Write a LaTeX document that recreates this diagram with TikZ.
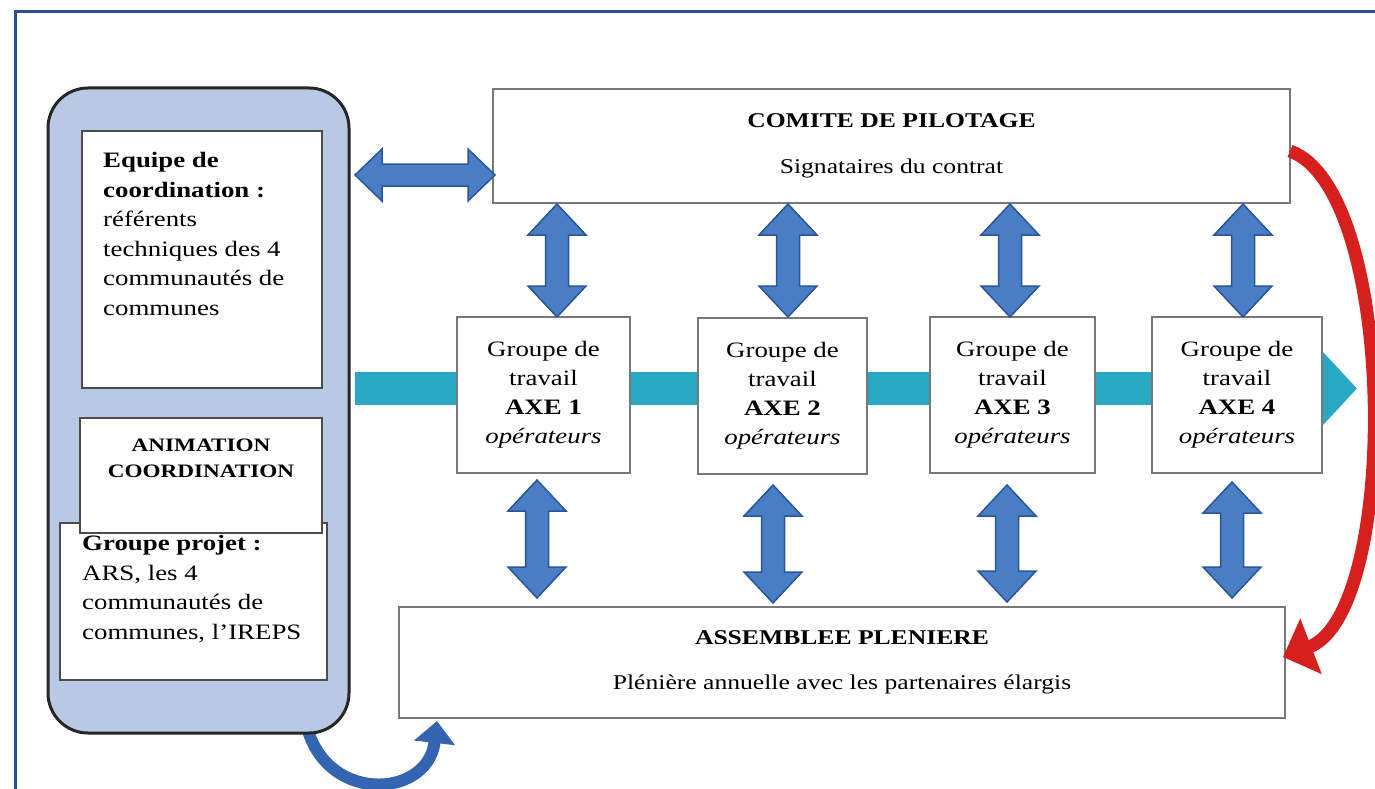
\documentclass[tikz,border=0pt]{standalone}
\usepackage{fontspec}
\setmainfont{Liberation Serif}[FakeStretch=1.22]
\usetikzlibrary{arrows.meta,calc}
\definecolor{framec}{RGB}{44,79,145}
\definecolor{panelc}{RGB}{185,201,229}
\definecolor{blueA}{RGB}{74,126,196}
\definecolor{blueD}{RGB}{40,86,158}
\definecolor{blueC}{RGB}{52,101,178}
\definecolor{tealc}{RGB}{41,168,196}
\definecolor{redc}{RGB}{214,32,30}
\definecolor{boxline}{RGB}{120,120,120}
\tikzset{
  mainbox/.style={draw=boxline, line width=1.6pt, fill=white, align=center, font=\fontsize{21}{29}\selectfont},
  axebox/.style={draw=boxline, line width=1.6pt, fill=white, align=center, minimum height=156pt, font=\fontsize{22}{29}\selectfont},
  innerbox/.style={draw=black!70, line width=1.4pt, fill=white},
  paneltext/.style={align=left, inner sep=0pt, font=\fontsize{22}{29.6}\selectfont},
  dbl/.style={fill=blueA, draw=blueD, line width=1.5pt, line join=miter},
}
\newcommand\vdarr[2]{\filldraw[dbl] let \p1=(#1), \p2=(#2) in
  (\x1,\y1) -- ({\x1+29pt},{\y1-31pt}) -- ({\x1+11.5pt},{\y1-31pt}) -- ({\x1+11.5pt},{\y2+31pt})
  -- ({\x1+29pt},{\y2+31pt}) -- (\x1,\y2) -- ({\x1-29pt},{\y2+31pt}) -- ({\x1-11.5pt},{\y2+31pt})
  -- ({\x1-11.5pt},{\y1-31pt}) -- ({\x1-29pt},{\y1-31pt}) -- cycle;}
\newcommand\hdarr[2]{\filldraw[dbl] let \p1=(#1), \p2=(#2) in
  (\x1,\y1) -- ({\x1+27pt},{\y1+26pt}) -- ({\x1+27pt},{\y1+11pt}) -- ({\x2-27pt},{\y1+11pt})
  -- ({\x2-27pt},{\y1+26pt}) -- (\x2,\y1) -- ({\x2-27pt},{\y1-26pt}) -- ({\x2-27pt},{\y1-11pt})
  -- ({\x1+27pt},{\y1-11pt}) -- ({\x1+27pt},{\y1-26pt}) -- cycle;}
\begin{document}
\begin{tikzpicture}[x=1pt,y=-1pt]
\useasboundingbox[fill=white] (0,0) rectangle (1375,789);
% outer frame
\coordinate (f0) at (15,789);
\coordinate (f1) at (15,12);
\coordinate (f2) at (1375,12);
\draw[framec, line width=3pt] (f0) -- (f1) -- (f2);
% curved blue arrow (behind panel)
\coordinate (b0) at (305,718);
\coordinate (b1) at (437,721);
\draw[blueC, line width=12pt, -{Triangle[width=40pt,length=22pt]}] (b0) .. controls (320,805) and (428,800) .. (b1);
% left panel
\node[draw=black!85, line width=3pt, fill=panelc, rounded corners=40pt, minimum width=301pt, minimum height=645pt] (panel) at (198.5,410.5) {};
\node[innerbox, minimum width=267pt, minimum height=157pt] (gproj) at (193.5,601.5) {};
\node[innerbox, minimum width=242pt, minimum height=115pt] (anim) at (201,475.5) {};
\node[innerbox, minimum width=240pt, minimum height=257pt] (equipe) at (202,259.5) {};
\node[paneltext, anchor=north west] (eqt) at (103,152) {\textbf{Equipe de}\\\textbf{coordination :}\\référents\\techniques des 4\\communautés de\\communes};
\node[align=center, inner sep=0pt, anchor=north, font=\fontsize{19}{26}\selectfont\bfseries] (animt) at (201,439) {ANIMATION\\COORDINATION};
\node[paneltext, anchor=north west] (gprojt) at (82,535) {\textbf{Groupe projet :}\\ARS, les 4\\communautés de\\communes, l’IREPS};
% teal timeline arrow
\coordinate (tl0) at (355,388.5);
\coordinate (tl1) at (1357,388.5);
\draw[tealc, line width=33pt, -{Triangle[width=71pt,length=34pt]}] (tl0) -- (tl1);
% main boxes
\node[mainbox, minimum width=797pt, minimum height=114pt] (comite) at (891.5,146) {\textbf{COMITE DE PILOTAGE}\\[17pt]Signataires du contrat};
\node[mainbox, minimum width=886pt, minimum height=111pt] (assemb) at (842,662.5) {\textbf{ASSEMBLEE PLENIERE}\\[16pt]Plénière annuelle avec les partenaires élargis};
\node[axebox, minimum width=173pt] (axe1) at (543.5,395) {Groupe de\\travail\\\textbf{AXE 1}\\\textit{opérateurs}};
\node[axebox, minimum width=169pt] (axe2) at (782.5,396) {Groupe de\\travail\\\textbf{AXE 2}\\\textit{opérateurs}};
\node[axebox, minimum width=165pt] (axe3) at (1012.5,395) {Groupe de\\travail\\\textbf{AXE 3}\\\textit{opérateurs}};
\node[axebox, minimum width=170pt] (axe4) at (1237,395) {Groupe de\\travail\\\textbf{AXE 4}\\\textit{opérateurs}};
% double arrows
\coordinate (h0) at (355,175);
\coordinate (h1) at (495,175);
\hdarr{h0}{h1}
\coordinate (t1a) at (557,204);  \coordinate (t1b) at (557,317);
\coordinate (t2a) at (788,204);  \coordinate (t2b) at (788,317);
\coordinate (t3a) at (1010,204); \coordinate (t3b) at (1010,317);
\coordinate (t4a) at (1243,204); \coordinate (t4b) at (1243,317);
\vdarr{t1a}{t1b}\vdarr{t2a}{t2b}\vdarr{t3a}{t3b}\vdarr{t4a}{t4b}
\coordinate (u1a) at (537,480);  \coordinate (u1b) at (537,598);
\coordinate (u2a) at (773,485);  \coordinate (u2b) at (773,603);
\coordinate (u3a) at (1007,485); \coordinate (u3b) at (1007,602);
\coordinate (u4a) at (1232,482); \coordinate (u4b) at (1232,598);
\vdarr{u1a}{u1b}\vdarr{u2a}{u2b}\vdarr{u3a}{u3b}\vdarr{u4a}{u4b}
% red curved arrow
\coordinate (r0) at (1290,151);
\coordinate (r1) at (1283,657);
\draw[redc, line width=13pt, -{Triangle[width=58pt,length=30pt]}] (r0) .. controls (1398,190) and (1400,612) .. (r1);
\end{tikzpicture}
\end{document}
